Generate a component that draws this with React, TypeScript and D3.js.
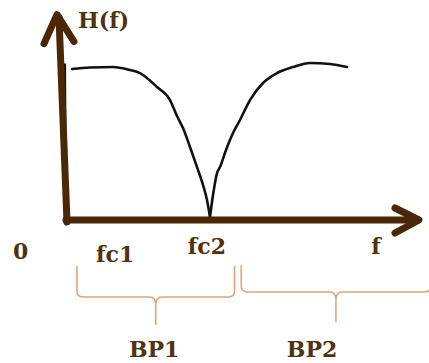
import React from "react";
import * as d3 from "d3";

// Response curve H(f) (f in arbitrary units, 0..100 along the axis)
const leftF = [1.69, 6.78, 13.28, 18.08, 20.9, 25.71, 29.38, 31.36, 33.05, 35.03, 37.01, 38.7, 39.83, 40.68];
const leftH = [0.956, 0.965, 0.968, 0.949, 0.93, 0.842, 0.759, 0.658, 0.582, 0.462, 0.335, 0.222, 0.127, 0.019];
const rightF = [40.68, 41.53, 42.66, 43.5, 45.2, 47.18, 49.15, 51.98, 55.65, 59.6, 64.12, 68.93, 74.58, 79.38];
const rightH = [0.019, 0.158, 0.297, 0.335, 0.443, 0.551, 0.633, 0.759, 0.867, 0.93, 0.968, 0.994, 0.987, 0.968];
const riseF = [0, -0.3];
const riseH = [0.01, 0.99];

const tickLabels = ["0", "fc1", "fc2", "f"];
const tickPos = [-12.8, 13.9, 39.8, 87.6];
const bandLabels = ["BP1", "BP2"];
const bandStart = [3.1, 49.5];
const bandEnd = [47.6, 103];
const bandLabelPos = [24.9, 69.5];

const W = 429;
const H = 363;
const AXIS = "#4a2807";
const TEXT = "#4f3210";
const BRACE = "#dea777";
const FONT = "'DejaVu Serif', serif";

export default function App() {
  const x = d3.scaleLinear().domain([0, 100]).range([66, 420]);
  const y = d3.scaleLinear().domain([0, 1]).range([220, 62]);

  const line = d3
    .line<[number, number]>()
    .x((d) => x(d[0]))
    .y((d) => y(d[1]))
    .curve(d3.curveMonotoneX);

  const left = leftF.map((f, i) => [f, leftH[i]] as [number, number]);
  const right = rightF.map((f, i) => [f, rightH[i]] as [number, number]);
  const rise = riseF.map((f, i) => [f, riseH[i]] as [number, number]);

  const x0 = x(0);
  const y0 = y(0);
  const yTop = y(1.3);
  const xEnd = x(100);

  const tickDy = [39, 42, 34, 34];

  const barY = [297, 292];
  const tipLen = [28, 30];
  const endUp = [31, 27];

  const brace = (a: number, b: number, by: number, tl: number, up: number) => {
    const mid = (a + b) / 2;
    const r = 6;
    return [
      `M${a},${by - up}`,
      `L${a},${by - r}`,
      `Q${a},${by} ${a + r},${by}`,
      `L${mid - 6},${by}`,
      `Q${mid},${by} ${mid},${by + 8}`,
      `L${mid},${by + tl}`,
      `M${mid},${by + 8}`,
      `Q${mid},${by} ${mid + 6},${by}`,
      `L${b - r},${by}`,
      `Q${b},${by} ${b},${by - r}`,
      `L${b},${by - up}`,
    ].join(" ");
  };

  return (
    <svg
      width={W}
      height={H}
      style={{ position: "absolute", left: 0, top: 0, background: "#fff" }}
    >
      {/* curve */}
      <path d={line(rise) || ""} fill="none" stroke="#111" strokeWidth={2.2} />
      <path d={line(left) || ""} fill="none" stroke="#111" strokeWidth={2.6} strokeLinecap="round" />
      <path d={line(right) || ""} fill="none" stroke="#111" strokeWidth={2.6} strokeLinecap="round" />

      {/* y axis (slightly slanted, hand drawn) */}
      <line x1={x0 + 1} y1={y0 + 2} x2={x0 - 7} y2={yTop + 3} stroke={AXIS} strokeWidth={7} strokeLinecap="round" />
      <path
        d={`M${x0 - 22},${yTop + 29} L${x0 - 9},${yTop} L${x0 + 8},${yTop + 27}`}
        fill="none"
        stroke={AXIS}
        strokeWidth={7}
        strokeLinecap="round"
        strokeLinejoin="round"
      />

      {/* x axis */}
      <line x1={x0} y1={y0} x2={xEnd - 2} y2={y0} stroke={AXIS} strokeWidth={7} strokeLinecap="round" />
      <path
        d={`M${xEnd - 25},${y0 - 12} L${xEnd - 1},${y0} L${xEnd - 25},${y0 + 13}`}
        fill="none"
        stroke={AXIS}
        strokeWidth={7}
        strokeLinecap="round"
        strokeLinejoin="round"
      />

      {/* axis title */}
      <text x={x0 + 12} y={28} fontFamily={FONT} fontWeight="bold" fontSize={22} fill={TEXT}>
        H(f)
      </text>

      {/* tick labels */}
      {tickLabels.map((t, i) => (
        <text
          key={t}
          x={x(tickPos[i])}
          y={y0 + tickDy[i]}
          textAnchor="middle"
          fontFamily={FONT}
          fontWeight="bold"
          fontSize={22}
          fill={TEXT}
        >
          {t}
        </text>
      ))}

      {/* braces */}
      {bandLabels.map((b, i) => {
        const a = x(bandStart[i]);
        const e = x(bandEnd[i]);
        return (
          <g key={b}>
            <path d={brace(a, e, barY[i], tipLen[i], endUp[i])} fill="none" stroke={BRACE} strokeWidth={1.6} />
            <text
              x={x(bandLabelPos[i])}
              y={357}
              textAnchor="middle"
              fontFamily={FONT}
              fontWeight="bold"
              fontSize={22}
              fill={TEXT}
            >
              {b}
            </text>
          </g>
        );
      })}
    </svg>
  );
}
